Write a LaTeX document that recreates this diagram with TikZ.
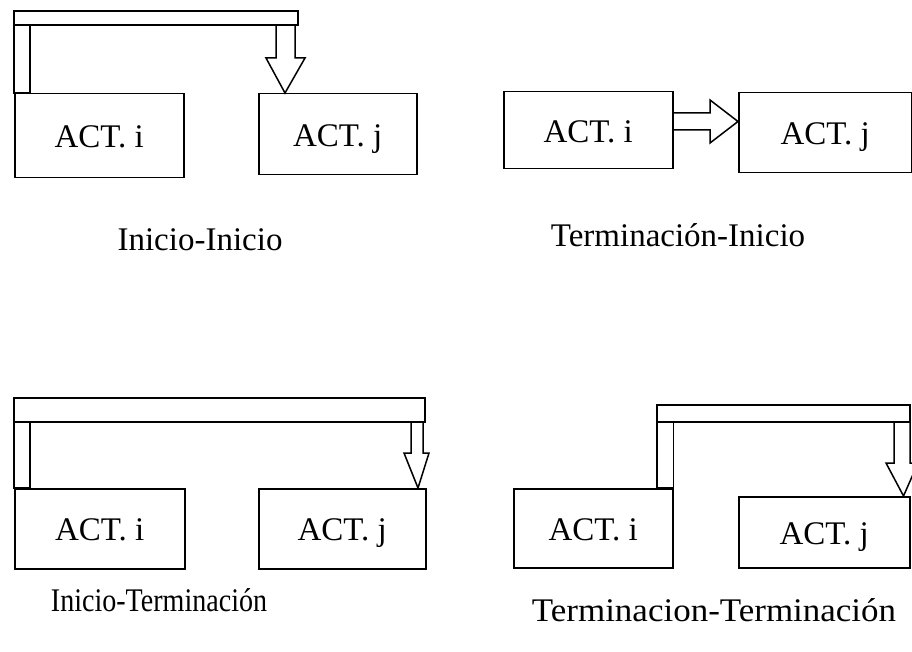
\documentclass[tikz,border=0pt]{standalone}
\usepackage{fontspec}
\setmainfont{Liberation Serif}
\usetikzlibrary{calc, positioning}
\tikzset{
    actbox/.style={
        rectangle,
        draw=black,
        line width=1.5pt,
        anchor=north west,
        inner sep=0pt,
        text height=24pt,
        text depth=0pt,
        font=\fontsize{33}{38}\selectfont
    },
    blockline/.style={
        draw=black,
        line width=1.5pt,
        line join=miter
    },
    caption/.style={
        font=\fontsize{33}{38}\selectfont
    }
}

\begin{document}
\begin{tikzpicture}[x=1pt, y=-1pt]
    \useasboundingbox (0,0) rectangle (912,652);

    % Inicio-Inicio
    \node[actbox, minimum width=169pt, minimum height=84pt] (ai1) at (14,93) {ACT. i};
    \node[actbox, minimum width=158pt, minimum height=81pt] (aj1) at (258,93) {ACT. j};
    \draw[blockline] (14,11) rectangle (298,25);
    \draw[blockline] (ai1.north west) rectangle ++(16,-68);
    \draw[blockline] (276,25) -- (276,58) -- (266,58) -- ($(aj1.north west)+(27,0)$)
        -- (305,58) -- (295,58) -- (295,25);
    \node[caption] (cap1) at (200,240) {Inicio-Inicio};

    % Terminacion-Inicio
    \node[actbox, minimum width=169pt, minimum height=77pt] (ai2) at (503,91) {ACT. i};
    \node[actbox, minimum width=173pt, minimum height=80pt] (aj2) at (738,92) {ACT. j};
    \draw[blockline] ($(ai2.north east)+(0,22)$) -- (710,113) -- (710,100)
        -- ($(aj2.north west)+(0,29.5)$) -- (710,143) -- (710,130) -- ($(ai2.north east)+(0,39)$);
    \node[caption] (cap2) at (678,235) {Terminación-Inicio};

    % Inicio-Terminacion
    \node[actbox, minimum width=170pt, minimum height=80pt] (ai3) at (14,488) {ACT. i};
    \node[actbox, minimum width=167pt, minimum height=80pt] (aj3) at (258,488) {ACT. j};
    \draw[blockline] (14,398) rectangle (425,422);
    \draw[blockline] (ai3.north west) rectangle ++(16,-66);
    \draw[blockline] (411,422) -- (411,453) -- (404,453) -- ($(aj3.north east)+(-8.5,0)$)
        -- (429,453) -- (423,453) -- (423,422);
    \node[caption] (cap3) at (159,600) {\scalebox{0.85}[1]{Inicio-Terminación}};

    % Terminacion-Terminacion
    \node[actbox, minimum width=159pt, minimum height=79pt] (ai4) at (513,488) {ACT. i};
    \node[actbox, minimum width=171pt, minimum height=71pt] (aj4) at (738,496) {ACT. j};
    \draw[blockline] (657,405) rectangle (910,422);
    \draw[blockline] (657,488) rectangle (ai4.north east |- 0,422);
    \draw[blockline] (894,422) -- (894,463) -- (886,463) -- ($(aj4.north east)+(-7,0)$)
        -- (918,463) -- (910,463) -- (910,422);
    \node[caption] (cap4) at (714,610) {\scalebox{1.06}[1]{Terminacion-Terminación}};
\end{tikzpicture}
\end{document}
